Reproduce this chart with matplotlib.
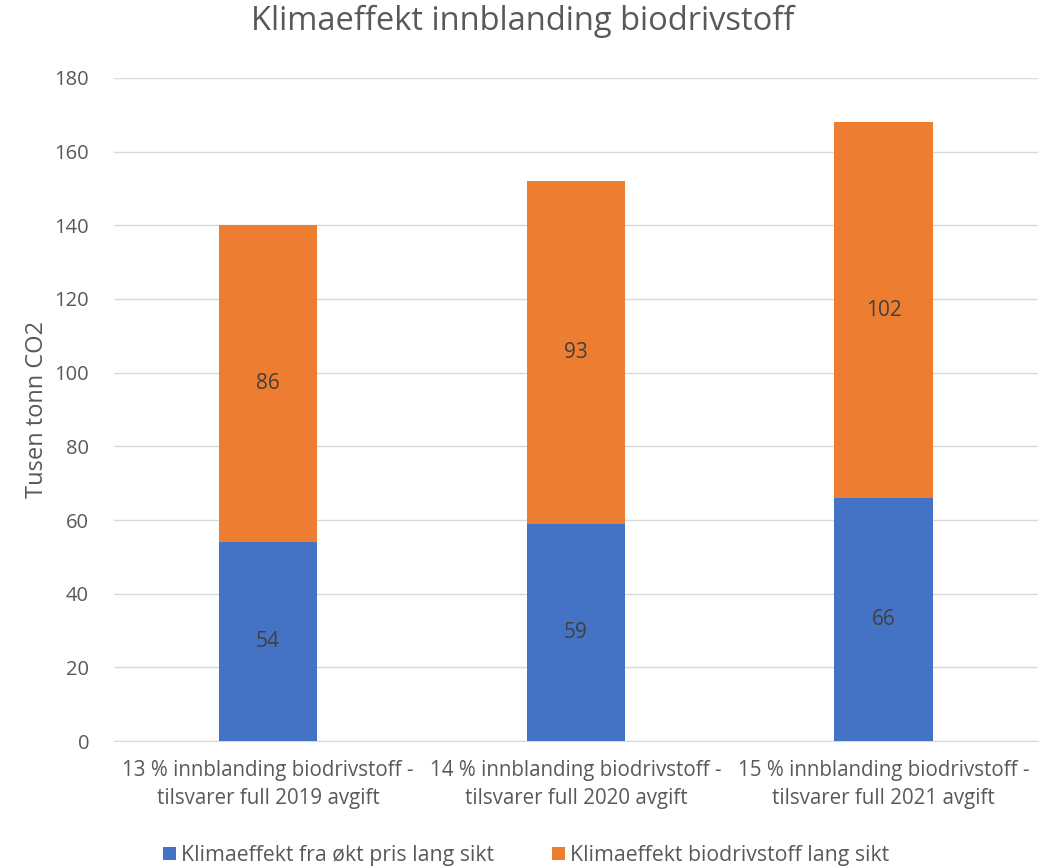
import matplotlib.pyplot as plt
import numpy as np

kategorier = ["13 % innblanding biodrivstoff -\ntilsvarer full 2019 avgift",
              "14 % innblanding biodrivstoff -\ntilsvarer full 2020 avgift",
              "15 % innblanding biodrivstoff -\ntilsvarer full 2021 avgift"]
pris_effekt = [54, 59, 66]
bio_effekt = [86, 93, 102]
serienavn = ["Klimaeffekt fra økt pris lang sikt", "Klimaeffekt biodrivstoff lang sikt"]

plt.rcParams['font.family'] = ['Open Sans', 'DejaVu Sans']
grå = '#595959'

fig = plt.figure(figsize=(10.46, 8.66), dpi=100)
ax = fig.add_axes([0.109, 0.1443, 0.883, 0.7657])

x = np.arange(len(kategorier))
b1 = ax.bar(x, pris_effekt, width=0.32, color='#4472C4', label=serienavn[0], zorder=3)
b2 = ax.bar(x, bio_effekt, width=0.32, bottom=pris_effekt, color='#ED7D31', label=serienavn[1], zorder=3)
ax.bar_label(b1, label_type='center', fontsize=15, color='#404040')
ax.bar_label(b2, label_type='center', fontsize=15, color='#404040')

ax.set_xlim(-0.5, 2.5)
ax.set_ylim(0, 180)
ax.set_yticks(range(0, 181, 20))
ax.set_xticks(x)
ax.set_xticklabels(kategorier, fontsize=14.8, color=grå, linespacing=1.4)
ax.tick_params(axis='y', labelsize=14.5, colors=grå, length=0, pad=18)
ax.tick_params(axis='x', length=0, pad=14)
ax.grid(axis='y', color='#D9D9D9', linewidth=1, zorder=0)
for s in ['top', 'right', 'left']:
    ax.spines[s].set_visible(False)
ax.spines['bottom'].set_color('#D9D9D9')
ax.set_ylabel("Tusen tonn CO2", fontsize=17, color=grå, labelpad=4)

fig.suptitle("Klimaeffekt innblanding biodrivstoff", fontsize=23.5, color=grå, y=0.995)

fig.legend(handles=[b1, b2], loc='lower center', bbox_to_anchor=(0.503, -0.022), ncol=2,
           frameon=False, fontsize=15.3, labelcolor=grå, handlelength=0.6, handleheight=0.6,
           handletextpad=0.25, columnspacing=2.7)

fig.savefig("out.png", dpi=100)
